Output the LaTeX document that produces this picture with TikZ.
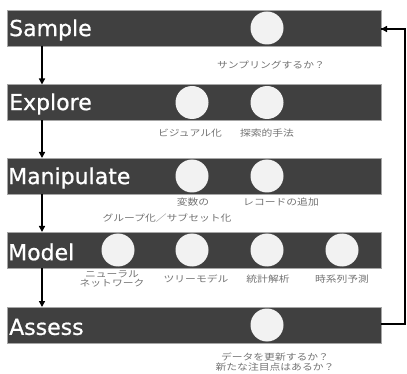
\documentclass[tikz,border=0pt]{standalone}
\usepackage{fontspec}
\setmainfont{DejaVu Sans}
\newfontfamily\titlefont[FakeBold=0.8]{DejaVu Sans}
\newfontfamily\jpfont[FakeStretch=1.2]{Noto Sans CJK JP}
\usetikzlibrary{arrows.meta,calc}
\begin{document}
\begin{tikzpicture}[x=1pt,y=-1pt,
  bar/.style={draw=black!35,line width=0.8pt,fill=black!75,minimum width=374pt,minimum height=36pt,inner sep=0pt,outer sep=0pt},
  bartext/.style={text=white,font=\titlefont\fontsize{22}{22}\selectfont,anchor=west,inner sep=0pt},
  dot/.style={circle,fill=black!5,minimum size=33pt,inner sep=0pt},
  jlabel/.style={text=black!55,font=\jpfont\fontsize{9}{9.5}\selectfont,align=center,inner sep=0pt},
  arr/.style={line width=1.8pt,-{Triangle[length=6pt,width=6pt]}},
  fb/.style={line width=1.6pt}]
\useasboundingbox (0,0) rectangle (407,374);
% bars
\node[bar] (sample) at (194,28) {};
\node[bar] (explore) at (194,102.5) {};
\node[bar] (manip) at (194,176) {};
\node[bar] (model) at (194,250) {};
\node[bar] (assess) at (194,325) {};
% bar titles
\node[bartext] (tsample) at (9,30) {Sample};
\node[bartext] (texplore) at (9,104) {Explore};
\node[bartext] (tmanip) at (8,178) {Manipulate};
\node[bartext] (tmodel) at (8,252) {Model};
\node[bartext] (tassess) at (9,327) {Assess};
% circles
\node[dot] (s1) at (267,28) {};
\node[dot] (e1) at (192,102.5) {};
\node[dot] (e2) at (267,102.5) {};
\node[dot] (m1) at (192,176) {};
\node[dot] (m2) at (267,176) {};
\node[dot] (d1) at (118,250) {};
\node[dot] (d2) at (192,250) {};
\node[dot] (d3) at (267,250) {};
\node[dot] (d4) at (342,250) {};
\node[dot] (a1) at (267,325) {};
% labels
\node[jlabel] (ls1) at (271,65) {サンプリングするか？};
\node[jlabel] (le1) at (190,133) {ビジュアル化};
\node[jlabel] (le2) at (267,133) {探索的手法};
\node[jlabel] (lm1a) at (193,202) {変数の};
\node[jlabel] (lm1b) at (167,218) {グループ化／サブセット化};
\node[jlabel] (lm2) at (281,202) {レコードの追加};
\node[jlabel] (ld1) at (112,279) {ニューラル\\ネットワーク};
\node[jlabel] (ld2) at (196,279) {ツリーモデル};
\node[jlabel] (ld3) at (268,279) {統計解析};
\node[jlabel] (ld4) at (342,279) {時系列予測};
\node[jlabel] (la1) at (275,362) {データを更新するか？\\新たな注目点はあるか？};
% arrows
\draw[arr] ($(sample.south west)+(35,0)$) -- ($(explore.north west)+(35,0)$);
\draw[arr] ($(explore.south west)+(35,0)$) -- ($(manip.north west)+(35,0)$);
\draw[arr] ($(manip.south west)+(35,0)$) -- ($(model.north west)+(35,0)$);
\draw[arr] ($(model.south west)+(35,0)$) -- ($(assess.north west)+(35,0)$);
\draw[fb] ($(assess.east)+(0,-1)$) -- ($(assess.east)+(24,-1)$) |- ($(sample.east)+(0,1)$);
\draw[arr,line width=1.6pt] ($(sample.east)+(20,1)$) -- ($(sample.east)+(0,1)$);
\end{tikzpicture}
\end{document}
